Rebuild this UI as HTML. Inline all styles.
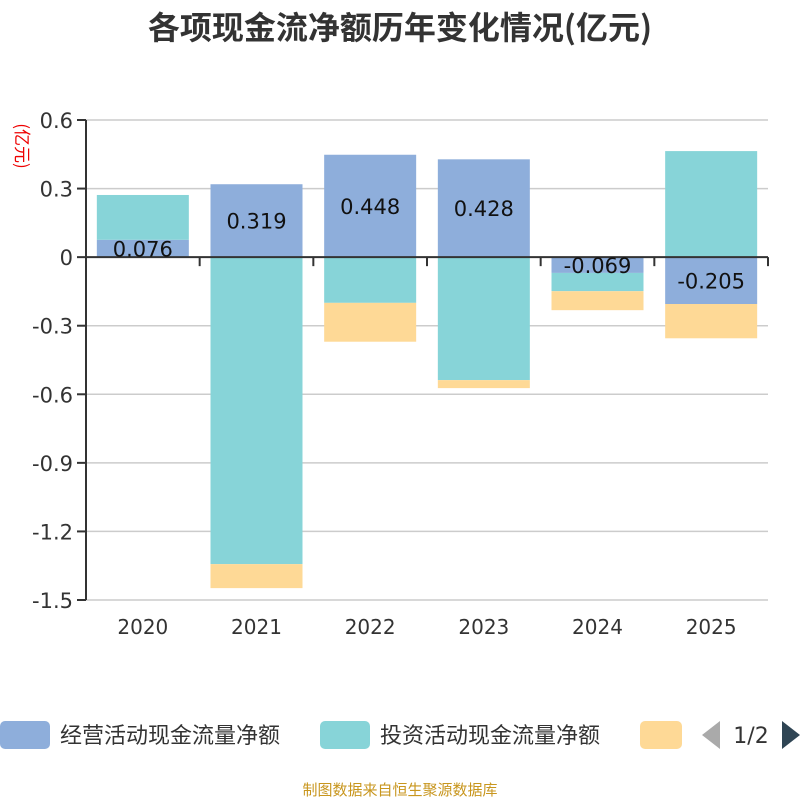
<!DOCTYPE html>
<html><head><meta charset="utf-8"><style>
body{margin:0;background:#fff;width:800px;height:800px;overflow:hidden;font-family:"DejaVu Sans","Noto Sans CJK SC",sans-serif}
</style></head><body>
<svg id="chart" width="800" height="800" xmlns="http://www.w3.org/2000/svg" font-family="'DejaVu Sans','Noto Sans CJK SC',sans-serif">
<text x="400" y="39" text-anchor="middle" font-size="32" font-weight="bold" fill="#333" font-family="'Noto Sans CJK SC',sans-serif">各项现金流净额历年变化情况(亿元)</text>
<text transform="translate(16,146) rotate(90)" text-anchor="middle" font-size="17" fill="#e00" font-family="'Noto Sans CJK SC',sans-serif">(亿元)</text>
<g id="grid"></g><g id="bars"></g><g id="axes"></g><g id="labels"></g>
<g font-family="'Noto Sans CJK SC',sans-serif">
<rect x="0" y="721" width="50" height="28" rx="5" fill="#8eaedb"/>
<text x="60" y="743" font-size="22" fill="#333">经营活动现金流量净额</text>
<rect x="320" y="721" width="50" height="28" rx="5" fill="#87d4d8"/>
<text x="380" y="743" font-size="22" fill="#333">投资活动现金流量净额</text>
<rect x="640" y="721" width="42" height="28" rx="5" fill="#fed996"/>
<polygon points="720,721 720,749 702,735" fill="#aaa"/>
<text x="751" y="743" text-anchor="middle" font-size="22" fill="#333" font-family="'DejaVu Sans',sans-serif">1/2</text>
<polygon points="782,721 782,749 800,735" fill="#2f4554"/>
</g>
<text x="400" y="795" text-anchor="middle" font-size="15" fill="#c8961e" font-family="'Noto Sans CJK SC',sans-serif">制图数据来自恒生聚源数据库</text>
</svg>
<script>
const categories=["2020","2021","2022","2023","2024","2025"];
const operating=[0.076,0.319,0.448,0.428,-0.069,-0.205];
const investing=[0.196,-1.343,-0.200,-0.538,-0.080,0.464];
const financing=[0,-0.105,-0.170,-0.035,-0.083,-0.150];
const yTicks=[0.6,0.3,0,-0.3,-0.6,-0.9,-1.2,-1.5];
const yTickLabels=["0.6","0.3","0","-0.3","-0.6","-0.9","-1.2","-1.5"];
const colors=["#8eaedb","#87d4d8","#fed996"];
const NS="http://www.w3.org/2000/svg";
const L=86,R=768,T=120,B=600,yMax=0.6,yMin=-1.5;
function y(v){return T+(yMax-v)/(yMax-yMin)*(B-T);}
const band=(R-L)/categories.length;
function x(i){return L+band*i;}
function mk(tag,attrs,parent){const e=document.createElementNS(NS,tag);for(const k in attrs)e.setAttribute(k,attrs[k]);document.getElementById(parent).appendChild(e);return e;}
yTicks.forEach((t,i)=>{
 if(t!==0){const g=mk('line',{x1:L,x2:R,y1:y(t),y2:y(t),stroke:'#ccc','stroke-width':1.5},'grid');
 
 }
 const tk=mk('line',{x1:L-9,x2:L,y1:y(t),y2:y(t),stroke:'#333','stroke-width':2},'axes');
 
 
 const tl=mk('text',{x:L-13,y:y(t)+8,'text-anchor':'end','font-size':21,fill:'#333'},'axes');
 tl.textContent=yTickLabels[i];
 
 
});
const ya=mk('line',{x1:L,x2:L,y1:T,y2:B,stroke:'#333','stroke-width':2},'axes');


const xa=mk('line',{x1:L,x2:R,y1:y(0),y2:y(0),stroke:'#333','stroke-width':2},'axes');


for(let i=0;i<=categories.length;i++){
 const tk=mk('line',{x1:x(i),x2:x(i),y1:y(0),y2:y(0)+9,stroke:'#333','stroke-width':2},'axes');
 
 
}
const series=[operating,investing,financing];
const names=['operating','investing','financing'];
categories.forEach((c,i)=>{
 let pos=0,neg=0;const bw=92,bx=x(i)+(band-bw)/2;
 series.forEach((s,k)=>{
  const v=s[i];if(!v)return;
  let a,b;if(v>=0){a=pos;b=pos+v;pos=b;}else{a=neg;b=neg+v;neg=b;}
  const r=mk('rect',{x:bx,y:Math.min(y(a),y(b)),width:bw,height:Math.abs(y(a)-y(b)),fill:colors[k]},'bars');
  
  
  if(k===0){const t=mk('text',{x:bx+bw/2,y:(y(a)+y(b))/2+8,'text-anchor':'middle','font-size':21,fill:'#111'},'labels');
   t.textContent=v.toFixed(3);
   
   }
 });
 const xl=mk('text',{x:x(i)+band/2,y:634,'text-anchor':'middle','font-size':20,fill:'#333'},'axes');
 xl.textContent=c;
 
 
});
</script>
</body></html>
